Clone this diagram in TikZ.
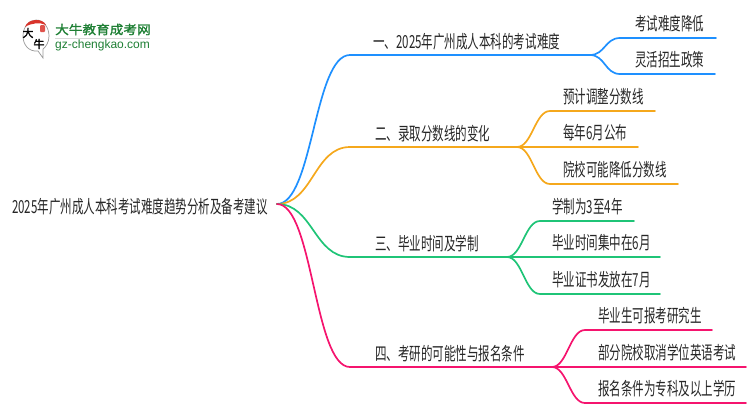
\documentclass[tikz,border=0pt]{standalone}
\usepackage{fontspec}
\usepackage{tikz}
\setmainfont{Noto Sans CJK SC}[FakeStretch=0.64]
\newfontfamily\logofont{Noto Sans CJK SC}[FakeBold=1.5,FakeStretch=1.1]
\newfontfamily\brushfont{Noto Sans CJK SC}[FakeBold=2]
\newfontfamily\urlfont{Liberation Sans}
\definecolor{branchblue}{HTML}{1E90FF}
\definecolor{branchorange}{HTML}{F5A81C}
\definecolor{branchgreen}{HTML}{1FC477}
\definecolor{branchpink}{HTML}{F5146E}
\definecolor{logogreen}{HTML}{1E7F34}
\definecolor{logored}{HTML}{D9342B}
\tikzset{
  branch/.style={line width=1.7pt,line cap=round},
  leaftext/.style={inner sep=0pt,anchor=base west,font=\fontsize{18}{20}\selectfont,text=black!85},
}
\newcommand{\bendlen}{36}
\newcommand{\twiglen}{15}
\begin{document}
\begin{tikzpicture}[x=1pt,y=-1pt]
\useasboundingbox (0,0) rectangle (750,410);

% logo
\draw[black!40,line width=0.7pt] (43,58) -- (38,51) .. controls (28,52) and (23,44) .. (23,36) .. controls (23,27) and (29,20) .. (36,20) .. controls (44,20) and (49,28) .. (49,36) .. controls (49,42) and (46,47) .. (43,49) -- cycle;
\fill[logored] (25,27) .. controls (28,18) and (43,18) .. (46,25) .. controls (40,22) and (31,23) .. (25,27) -- cycle;
\fill[logored!85,rounded corners=1pt] (40,25) rectangle (45,32);
\node[inner sep=0pt,font=\brushfont\fontsize{11}{11}\selectfont] (logoda) at (28,33) {大};
\node[inner sep=0pt,font=\brushfont\fontsize{11}{11}\selectfont] (logoniu) at (39,44) {牛};
\node[inner sep=0pt,anchor=west,text=logogreen,font=\logofont\fontsize{12.4}{14}\selectfont] (logotitle) at (55,29.5) {大牛教育成考网};
\draw[black!15,line width=0.8pt] (55,38.5) -- (150,38.5);
\node[inner sep=0pt,anchor=west,text=logogreen,font=\urlfont\fontsize{12}{12}\selectfont] (logourl) at (55,45.5) {gz-chengkao.com};

% root
\node[inner sep=0pt,anchor=base,font=\fontsize{18}{20}\selectfont,text=black!85] (root) at (140,213) {2025年广州成人本科考试难度趋势分析及备考建议};
\coordinate (rootout) at (277,204);

% branch one
\coordinate (oneturn) at (350,55);
\coordinate (onefork) at (590,55);
\node[leaftext] (onetext) at (373,48) {一、2025年广州成人本科的考试难度};
\draw[branch,branchblue] (rootout) .. controls +(\bendlen,0) and +(-\bendlen,0) .. (oneturn) -- (onefork);
\foreach \name/\txt/\y/\xend in {oa/考试难度降低/38/716,ob/灵活招生政策/74/715}{
  \coordinate (\name left) at (620,\y);
  \coordinate (\name right) at (\xend,\y);
  \node[leaftext] (\name) at (635,\y-8) {\txt};
  \draw[branch,branchblue] (onefork) .. controls +(\twiglen,0) and +(-\twiglen,0) .. (\name left) -- (\name right);
}

% branch two
\coordinate (twoturn) at (350,147);
\coordinate (twofork) at (517,147);
\node[leaftext] (twotext) at (375,140) {二、录取分数线的变化};
\draw[branch,branchorange] (rootout) .. controls +(\bendlen,0) and +(-\bendlen,0) .. (twoturn) -- (twofork);
\foreach \name/\txt/\y/\xend in {ta/预计调整分数线/111/655,tb/每年6月公布/147/638,tc/院校可能降低分数线/184/678}{
  \coordinate (\name left) at (550,\y);
  \coordinate (\name right) at (\xend,\y);
  \node[leaftext] (\name) at (563,\y-8) {\txt};
  \draw[branch,branchorange] (twofork) .. controls +(\twiglen,0) and +(-\twiglen,0) .. (\name left) -- (\name right);
}

% branch three
\coordinate (threeturn) at (350,257);
\coordinate (threefork) at (507,257);
\node[leaftext] (threetext) at (375,250) {三、毕业时间及学制};
\draw[branch,branchgreen] (rootout) .. controls +(\bendlen,0) and +(-\bendlen,0) .. (threeturn) -- (threefork);
\foreach \name/\txt/\y/\xend in {ha/学制为3至4年/221/634,hb/毕业时间集中在6月/257/660,hc/毕业证书发放在7月/294/660}{
  \coordinate (\name left) at (540,\y);
  \coordinate (\name right) at (\xend,\y);
  \node[leaftext] (\name) at (552,\y-8) {\txt};
  \draw[branch,branchgreen] (threefork) .. controls +(\twiglen,0) and +(-\twiglen,0) .. (\name left) -- (\name right);
}

% branch four
\coordinate (fourturn) at (350,367);
\coordinate (fourfork) at (552,367);
\node[leaftext] (fourtext) at (375,360) {四、考研的可能性与报名条件};
\draw[branch,branchpink] (rootout) .. controls +(\bendlen,0) and +(-\bendlen,0) .. (fourturn) -- (fourfork);
\foreach \name/\txt/\y/\xend in {fa/毕业生可报考研究生/330/712,fb/部分院校取消学位英语考试/367/746,fc/报名条件为专科及以上学历/403/746}{
  \coordinate (\name left) at (585,\y);
  \coordinate (\name right) at (\xend,\y);
  \node[leaftext] (\name) at (598,\y-8) {\txt};
  \draw[branch,branchpink] (fourfork) .. controls +(\twiglen,0) and +(-\twiglen,0) .. (\name left) -- (\name right);
}
\end{tikzpicture}
\end{document}
